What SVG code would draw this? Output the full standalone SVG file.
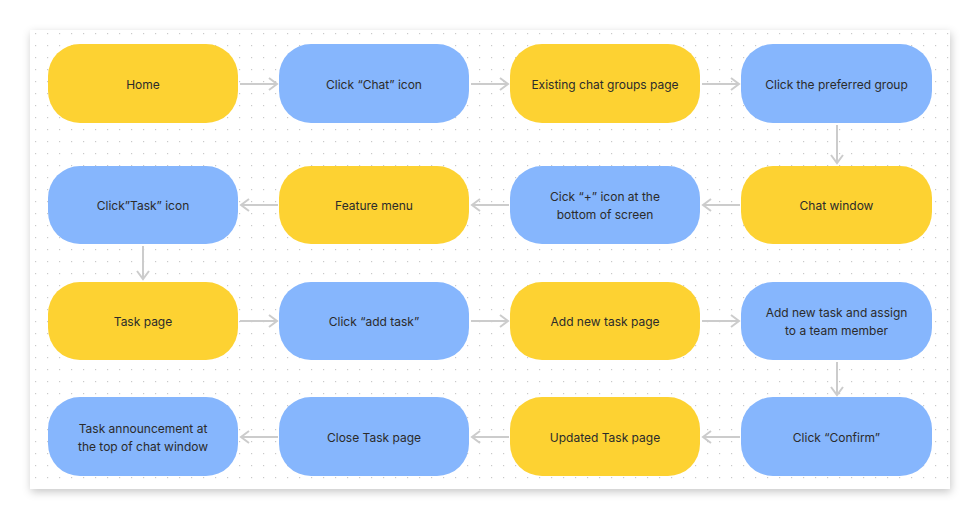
<svg xmlns="http://www.w3.org/2000/svg" width="980" height="520" viewBox="0 0 980 520">
<defs>
<filter id="sh" x="-5%" y="-5%" width="110%" height="115%">
<feDropShadow dx="1" dy="3" stdDeviation="4" flood-color="#000" flood-opacity="0.22"/>
</filter>
<pattern id="dots" x="11" y="9" width="12" height="12" patternUnits="userSpaceOnUse">
<rect x="0" y="0" width="1.2" height="1.2" fill="#c9c9c9"/>
</pattern>
<marker id="ah" markerWidth="12" markerHeight="14" refX="10" refY="7" orient="auto" markerUnits="userSpaceOnUse">
<path d="M2,1 L10,7 L2,13" fill="none" stroke="#cccccc" stroke-width="2"/>
</marker>
</defs>
<style>
.y{fill:#FDD232}
.b{fill:#86B6FD}
.t{font-family:Inter,"Liberation Sans",sans-serif;font-size:12px;fill:#2b2b2b;text-anchor:middle}
.c{stroke:#cccccc;stroke-width:2;fill:none;marker-end:url(#ah)}
</style>
<rect x="0" y="0" width="980" height="520" fill="#ffffff"/>
<rect x="30" y="30" width="920" height="459" fill="#ffffff" filter="url(#sh)"/>
<rect x="30" y="30" width="920" height="459" fill="url(#dots)"/>

<g id="connectors">
<line class="c" x1="240" y1="84" x2="277" y2="84"/>
<line class="c" x1="471" y1="84" x2="508" y2="84"/>
<line class="c" x1="702" y1="84" x2="739" y2="84"/>
<line class="c" x1="837" y1="125" x2="837" y2="163"/>
<line class="c" x1="740" y1="205" x2="703" y2="205"/>
<line class="c" x1="509" y1="205" x2="472" y2="205"/>
<line class="c" x1="278" y1="205" x2="241" y2="205"/>
<line class="c" x1="143" y1="246" x2="143" y2="279"/>
<line class="c" x1="240" y1="321" x2="277" y2="321"/>
<line class="c" x1="471" y1="321" x2="508" y2="321"/>
<line class="c" x1="702" y1="321" x2="739" y2="321"/>
<line class="c" x1="837" y1="362" x2="837" y2="395"/>
<line class="c" x1="740" y1="437" x2="703" y2="437"/>
<line class="c" x1="509" y1="437" x2="472" y2="437"/>
<line class="c" x1="278" y1="437" x2="241" y2="437"/>
</g>

<g id="n1"><rect class="y" x="48" y="44" width="190" height="79" rx="32"/><text class="t" x="143" y="88.5">Home</text></g>
<g id="n2"><rect class="b" x="279" y="44" width="190" height="79" rx="32"/><text class="t" x="374" y="88.5">Click “Chat” icon</text></g>
<g id="n3"><rect class="y" x="510" y="44" width="190" height="79" rx="32"/><text class="t" x="605" y="88.5">Existing chat groups page</text></g>
<g id="n4"><rect class="b" x="741" y="44" width="191" height="79" rx="32"/><text class="t" x="836.5" y="88.5">Click the preferred group</text></g>

<g id="n5"><rect class="y" x="741" y="166" width="191" height="78" rx="32"/><text class="t" x="836.5" y="210">Chat window</text></g>
<g id="n6"><rect class="b" x="510" y="166" width="190" height="78" rx="32"/><text class="t" x="605" y="201">Cick “+” icon at the</text><text class="t" x="605" y="219">bottom of screen</text></g>
<g id="n7"><rect class="y" x="279" y="166" width="190" height="78" rx="32"/><text class="t" x="374" y="210">Feature menu</text></g>
<g id="n8"><rect class="b" x="48" y="166" width="190" height="78" rx="32"/><text class="t" x="143" y="210">Click”Task” icon</text></g>

<g id="n9"><rect class="y" x="48" y="282" width="190" height="78" rx="32"/><text class="t" x="143" y="326">Task page</text></g>
<g id="n10"><rect class="b" x="279" y="282" width="190" height="78" rx="32"/><text class="t" x="374" y="326">Click “add task”</text></g>
<g id="n11"><rect class="y" x="510" y="282" width="190" height="78" rx="32"/><text class="t" x="605" y="326">Add new task page</text></g>
<g id="n12"><rect class="b" x="741" y="282" width="191" height="78" rx="32"/><text class="t" x="836.5" y="317">Add new task and assign</text><text class="t" x="836.5" y="335">to a team member</text></g>

<g id="n13"><rect class="b" x="741" y="397" width="191" height="79" rx="32"/><text class="t" x="836.5" y="441.5">Click “Confirm”</text></g>
<g id="n14"><rect class="y" x="510" y="397" width="190" height="79" rx="32"/><text class="t" x="605" y="441.5">Updated Task page</text></g>
<g id="n15"><rect class="b" x="279" y="397" width="190" height="79" rx="32"/><text class="t" x="374" y="441.5">Close Task page</text></g>
<g id="n16"><rect class="b" x="48" y="397" width="190" height="79" rx="32"/><text class="t" x="143" y="432.5">Task announcement at</text><text class="t" x="143" y="450.5">the top of chat window</text></g>
</svg>
